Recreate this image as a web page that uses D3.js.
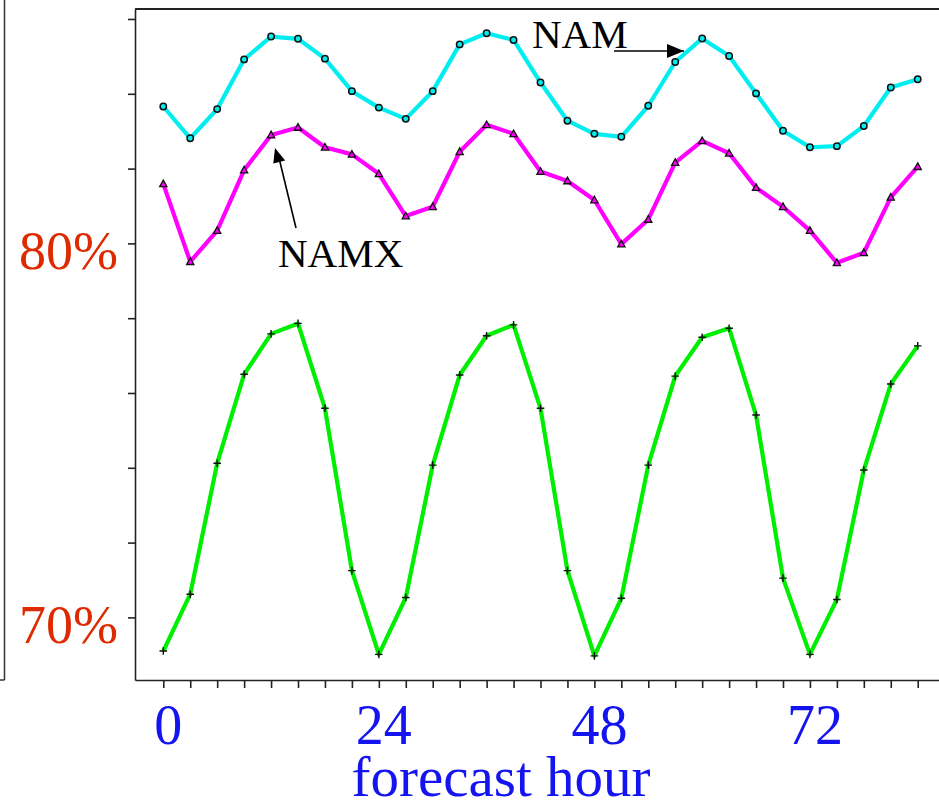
<!DOCTYPE html>
<html><head><meta charset="utf-8">
<script src="https://cdn.jsdelivr.net/npm/d3@7"></script>
<style>
html,body{margin:0;padding:0;background:#fff;}
svg{display:block;}
text{font-family:"Liberation Serif","Times New Roman",Times,serif;}
</style></head>
<body>
<svg id="chart" width="939" height="807"></svg>
<script>
// forecast hours 0..84 every 3 h
const hours = [0,3,6,9,12,15,18,21,24,27,30,33,36,39,42,45,48,51,54,57,60,63,66,69,72,75,78,81,84];
const nam = [83.66,82.81,83.59,84.92,85.53,85.47,84.94,84.07,83.63,83.33,84.07,85.32,85.62,85.44,84.30,83.28,82.93,82.85,83.68,84.85,85.48,85.01,84.01,83.01,82.57,82.60,83.14,84.17,84.39];
const namx = [81.59,79.51,80.34,81.96,82.90,83.10,82.57,82.38,81.86,80.73,80.98,82.45,83.17,82.93,81.92,81.67,81.16,79.98,80.64,82.16,82.74,82.41,81.49,80.98,80.34,79.48,79.75,81.23,82.05];
const third = [69.10,70.62,74.12,76.50,77.58,77.86,75.59,71.25,69.01,70.53,74.07,76.48,77.53,77.82,75.59,71.25,68.97,70.51,74.07,76.45,77.49,77.73,75.41,71.05,69.01,70.48,73.94,76.24,77.26];
const yTicks = [70,72,74,76,78,80,82,84,86];
const yLabels = [{v:80,t:"80%"},{v:70,t:"70%"}];
const xLabels = [0,24,48,72];
const xTitle = "forecast hour";

const svg = d3.select("#chart");
const x = d3.scaleLinear().domain([-3.15, 86.37]).range([135, 939]);
const y = d3.scaleLinear().domain([68.326, 86.267]).range([680, 9]);

// outer left frame line
svg.append("line").attr("x1",4.5).attr("x2",4.5).attr("y1",0).attr("y2",680).attr("stroke","#333").attr("stroke-width",1.5);
svg.append("line").attr("x1",0).attr("x2",4.5).attr("y1",680).attr("y2",680).attr("stroke","#333").attr("stroke-width",1.5);

// top frame
svg.append("line").attr("x1",135).attr("x2",939).attr("y1",9).attr("y2",9).attr("stroke","#222").attr("stroke-width",2);

// y axis
const ya = svg.append("g").attr("transform","translate(135,0)")
  .call(d3.axisLeft(y).tickValues(yTicks).tickSize(7).tickSizeOuter(0).tickFormat(""));
ya.selectAll("path,line").attr("stroke","#222").attr("stroke-width",1.6);

// x axis
const xa = svg.append("g").attr("transform","translate(0,680)")
  .call(d3.axisBottom(x).tickValues(hours).tickSize(8).tickSizeOuter(0).tickFormat(""));
xa.selectAll("path,line").attr("stroke","#222").attr("stroke-width",1.6);

// lines
const line = d3.line().x((d,i)=>x(hours[i])).y(d=>y(d));
const series = [
  {vals:nam, color:"#00eef0", marker:"circle"},
  {vals:namx, color:"#ff00ff", marker:"triangle"},
  {vals:third, color:"#00ee00", marker:"plus"}
];
series.forEach(s=>{
  svg.append("path").datum(s.vals).attr("d",line)
    .attr("fill","none").attr("stroke",s.color).attr("stroke-width",4.2).attr("stroke-linejoin","round");
  const g = svg.append("g");
  s.vals.forEach((v,i)=>{
    const cx = x(hours[i]), cy = y(v);
    if(s.marker==="circle"){
      g.append("circle").attr("cx",cx).attr("cy",cy).attr("r",3.2).attr("fill",s.color).attr("stroke","#111").attr("stroke-width",1.5);
    } else if(s.marker==="triangle"){
      g.append("path").attr("d",`M${cx},${cy-3.8}L${cx+3.6},${cy+2.8}L${cx-3.6},${cy+2.8}Z`).attr("fill",s.color).attr("stroke","#111").attr("stroke-width",1.3);
    } else {
      g.append("path").attr("d",`M${cx-3.8},${cy}H${cx+3.8}M${cx},${cy-3.8}V${cy+3.8}`).attr("stroke","#111").attr("stroke-width",1.4);
    }
  });
});

// y labels
svg.selectAll(".ylab").data(yLabels).enter().append("text")
  .attr("x",118).attr("y",d=>y(d.v)+26).attr("text-anchor","end")
  .attr("font-size",54).attr("fill","#dd2a00").text(d=>d.t);

// x labels
svg.selectAll(".xlab").data(xLabels).enter().append("text")
  .attr("x",d=>x(d)+5).attr("y",744).attr("text-anchor","middle")
  .attr("font-size",56).attr("fill","#1414f0").text(d=>d);
svg.append("text").attr("x",501).attr("y",796).attr("text-anchor","middle")
  .attr("font-size",57).attr("fill","#1414f0").text(xTitle);

// annotations
svg.append("text").attr("x",532).attr("y",48).attr("font-size",41).attr("fill","#000").text("NAM");
svg.append("line").attr("x1",614).attr("y1",51).attr("x2",684).attr("y2",51)
  .attr("stroke","#000").attr("stroke-width",1.6);
svg.append("path").attr("d","M684,51L667,44L667,58Z").attr("fill","#000");

svg.append("text").attr("x",278).attr("y",267).attr("font-size",41).attr("fill","#000").text("NAMX");
svg.append("line").attr("x1",296).attr("y1",228).attr("x2",279).attr("y2",158)
  .attr("stroke","#000").attr("stroke-width",1.6);
svg.append("path").attr("d","M275,148L273.3,163.5L285.2,160.6Z").attr("fill","#000");
</script>
</body></html>
